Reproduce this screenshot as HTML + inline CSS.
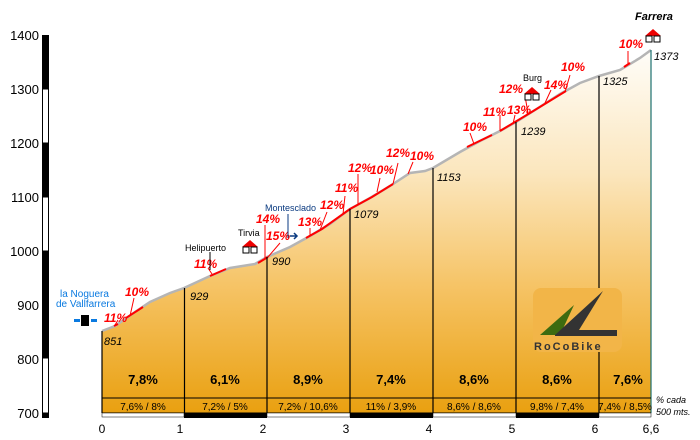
<!DOCTYPE html>
<html><head><meta charset="utf-8"><style>
html,body{margin:0;padding:0;background:#fff;}
svg{display:block;font-family:"Liberation Sans",sans-serif;}
.r{fill:#ff0000;font-weight:bold;font-style:italic;font-size:12px;}
.i{font-size:11px;font-style:italic;fill:#000;}
</style></head><body>
<svg width="700" height="440" viewBox="0 0 700 440">
<defs>
<linearGradient id="g" x1="0" y1="45" x2="0" y2="413" gradientUnits="userSpaceOnUse">
<stop offset="0" stop-color="#fffefb"/>
<stop offset="0.35" stop-color="#fbe6bd"/>
<stop offset="0.65" stop-color="#f6c467"/>
<stop offset="1" stop-color="#e9a010"/>
</linearGradient>
<g id="h">
<path d="M-8,0 L0,-7 L8,0 Z" fill="#e00"/>
<rect x="-7" y="0" width="6" height="6" fill="#fff" stroke="#000"/>
<rect x="1" y="0" width="6" height="6" fill="#fff" stroke="#000"/>
</g>
</defs>
<g font-size="13" text-anchor="end">
<text x="39" y="40">1400</text><text x="39" y="94">1300</text><text x="39" y="148">1200</text>
<text x="39" y="202">1100</text><text x="39" y="256">1000</text><text x="39" y="310">900</text>
<text x="39" y="364">800</text><text x="39" y="418">700</text>
</g>
<rect x="42" y="35" width="7" height="54" fill="#000"/>
<rect x="42.5" y="89" width="6" height="54" fill="#fff" stroke="#000"/>
<rect x="42" y="143" width="7" height="54" fill="#000"/>
<rect x="42.5" y="197" width="6" height="54" fill="#fff" stroke="#000"/>
<rect x="42" y="251" width="7" height="107" fill="#000"/>
<rect x="42.5" y="358" width="6" height="55" fill="#fff" stroke="#000"/>
<rect x="42" y="413" width="7" height="5" fill="#000"/>
<path d="M102,331 L115,326 L135,312 L150,302 L170,293 L184,288 L210,276 L230,268 L255,264 L267,257 L290,247 L310,236 L330,224 L350,209 L370,198 L390,186 L410,173 L425,171 L433,168 L460,152 L480,141 L500,131 L516,122 L535,110 L560,94 L580,83 L599,76 L620,70 L640,58 L651,50 L651,413 L102,413 Z" fill="url(#g)"/>
<path d="M102,331 L115,326 L135,312 L150,302 L170,293 L184,288 L210,276 L230,268 L255,264 L267,257 L290,247 L310,236 L330,224 L350,209 L370,198 L390,186 L410,173 L425,171 L433,168 L460,152 L480,141 L500,131 L516,122 L535,110 L560,94 L580,83 L599,76 L620,70 L640,58 L651,50" fill="none" stroke="#b5b5b5" stroke-width="2.5"/>
<g stroke="#ff0000" stroke-width="2" fill="none">
<path d="M114,326 L118,324"/><path d="M126,318 L143,307"/>
<path d="M210,276 L226,269"/>
<path d="M258,263 L268,257"/>
<path d="M306,238 L322,229 L350,209 L372,197 L393,184"/>
<path d="M467,147 L492,135"/><path d="M500,131 L530,113 L566,91"/>
<path d="M624,67 L630,63"/>
</g>
<g stroke="#ff0000" stroke-width="1">
<path d="M115,325 L118,320"/><path d="M130,316 L134,298"/>
<path d="M212,274 L208,268"/>
<path d="M265,258 L265,225"/><path d="M268,257 L280,243"/>
<path d="M310,236 L310,228"/><path d="M320,230 L327,212"/>
<path d="M343,214 L345,196"/><path d="M358,205 L358,174"/>
<path d="M377,192 L380,178"/><path d="M393,184 L398,163"/><path d="M408,174 L413,162"/>
<path d="M474,144 L470,133"/><path d="M500,131 L500,115"/><path d="M513,124 L515,115"/>
<path d="M528,113 L525,96"/><path d="M545,103 L551,90"/><path d="M565,92 L570,75"/>
<path d="M628,65 L628,51"/>
</g>
<g class="r">
<text x="104" y="322">11%</text><text x="125" y="296">10%</text>
<text x="194" y="268">11%</text>
<text x="256" y="223">14%</text><text x="266" y="240">15%</text>
<text x="298" y="226">13%</text><text x="320" y="209">12%</text>
<text x="335" y="192">11%</text><text x="348" y="172">12%</text><text x="370" y="174">10%</text>
<text x="386" y="157">12%</text><text x="410" y="160">10%</text>
<text x="463" y="131">10%</text><text x="483" y="116">11%</text><text x="507" y="114">13%</text>
<text x="499" y="93">12%</text><text x="544" y="89">14%</text><text x="561" y="71">10%</text>
<text x="619" y="48">10%</text>
</g>
<g stroke="#000" stroke-width="1.2">
<line x1="102" y1="331" x2="102" y2="413"/><line x1="184.5" y1="288" x2="184.5" y2="413"/>
<line x1="267" y1="257" x2="267" y2="413"/><line x1="350" y1="209" x2="350" y2="413"/>
<line x1="433" y1="168" x2="433" y2="413"/><line x1="516" y1="122" x2="516" y2="413"/>
<line x1="599" y1="76" x2="599" y2="413"/>
</g>
<line x1="651" y1="50" x2="651" y2="413" stroke="#1a7070" stroke-width="1.2"/>
<line x1="210" y1="270" x2="210" y2="252" stroke="#000"/>
<rect x="533" y="288" width="89" height="64" rx="8" fill="#f2b548"/>
<path d="M540,335 L574,305 L560,335 Z" fill="#3d6b10"/>
<path d="M555,335 L603,291 L579,330 L617,330 L617,336 L555,336 Z" fill="#333"/>
<text x="534" y="350" font-size="11" font-weight="bold" fill="#333" letter-spacing="2">RoCoBike</text>
<line x1="102" y1="398" x2="651" y2="398" stroke="#000"/>
<line x1="102" y1="413" x2="651" y2="413" stroke="#000"/>
<g font-size="10" text-anchor="middle">
<text x="143" y="410">7,6% / 8%</text><text x="225" y="410">7,2% / 5%</text>
<text x="308" y="410">7,2% / 10,6%</text><text x="391" y="410">11% / 3,9%</text>
<text x="474" y="410">8,6% / 8,6%</text><text x="557" y="410">9,8% / 7,4%</text>
<text x="625" y="410">7,4% / 8,5%</text>
</g>
<g font-size="13" font-weight="bold" text-anchor="middle">
<text x="143" y="384">7,8%</text><text x="225" y="384">6,1%</text><text x="308" y="384">8,9%</text>
<text x="391" y="384">7,4%</text><text x="474" y="384">8,6%</text><text x="557" y="384">8,6%</text>
<text x="628" y="384">7,6%</text>
</g>
<text x="656" y="403" font-size="9" font-style="italic">% cada</text>
<text x="656" y="415" font-size="9" font-style="italic">500 mts.</text>
<rect x="102" y="413" width="82" height="4" fill="#fff" stroke="#000" stroke-width="0.5"/>
<rect x="184" y="413" width="83" height="5" fill="#000"/>
<rect x="267" y="413" width="83" height="4" fill="#fff" stroke="#000" stroke-width="0.5"/>
<rect x="350" y="413" width="83" height="5" fill="#000"/>
<rect x="433" y="413" width="83" height="4" fill="#fff" stroke="#000" stroke-width="0.5"/>
<rect x="516" y="413" width="83" height="5" fill="#000"/>
<rect x="599" y="413" width="52" height="4" fill="#fff" stroke="#000" stroke-width="0.5"/>
<g font-size="12" text-anchor="middle">
<text x="102" y="433">0</text><text x="180" y="433">1</text><text x="263" y="433">2</text>
<text x="346" y="433">3</text><text x="429" y="433">4</text><text x="512" y="433">5</text>
<text x="595" y="433">6</text><text x="651" y="433">6,6</text>
</g>
<g class="i">
<text x="104" y="345">851</text><text x="190" y="300">929</text><text x="272" y="265">990</text>
<text x="354" y="218">1079</text><text x="437" y="181">1153</text><text x="521" y="135">1239</text>
<text x="603" y="85">1325</text><text x="654" y="60">1373</text>
</g>
<text x="60" y="297" font-size="10" fill="#0a7ae0">la Noguera</text>
<text x="56" y="307" font-size="10" fill="#0a7ae0">de Vallfarrera</text>
<rect x="74" y="319" width="6" height="3" fill="#0a7ae0"/><rect x="91" y="319" width="6" height="3" fill="#0a7ae0"/>
<rect x="81" y="315" width="8" height="11" fill="#000"/>
<text x="185" y="251" font-size="9">Helipuerto</text>
<text x="238" y="236" font-size="9">Tirvia</text>
<use href="#h" x="250" y="247"/>
<text x="265" y="211" font-size="9" fill="#0a3a80">Montesclado</text>
<line x1="288" y1="214" x2="288" y2="238" stroke="#0a3a80"/>
<path d="M290,236 L296,236 M294,233 L297,236 L294,239" stroke="#0a3a80" fill="none" stroke-width="1.5"/>
<text x="523" y="81" font-size="9">Burg</text>
<use href="#h" x="532" y="94"/>
<text x="635" y="20" font-size="11" font-weight="bold" font-style="italic">Farrera</text>
<use href="#h" x="653" y="36"/>
</svg>
</body></html>
